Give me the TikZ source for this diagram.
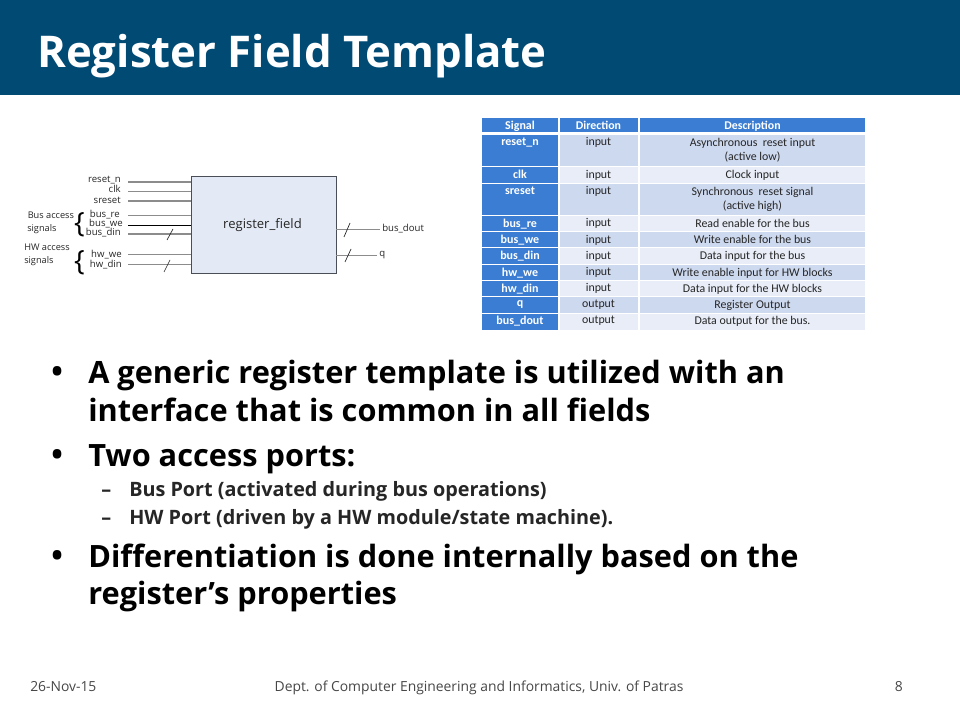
\documentclass[tikz,border=0pt]{standalone}
\usepackage{fontspec}
\setmainfont{Open Sans}
\newfontfamily\tbl{Carlito}
\definecolor{banner}{HTML}{004A74}
\definecolor{hdr}{HTML}{3A7DD3}
\definecolor{rowa}{HTML}{CDD9EF}
\definecolor{rowb}{HTML}{E8EDF7}
\definecolor{wire}{HTML}{8C8C8C}
\definecolor{boxfill}{HTML}{E4EAF5}
\definecolor{boxline}{HTML}{4A4F57}
\definecolor{txt}{HTML}{262626}
\tikzset{
 x=0.75pt,y=-0.75pt,
 cellc/.style={font=\tbl\fontsize{8.9}{10.9}\selectfont,text=txt,align=center,anchor=north,inner sep=0pt},
 cellh/.style={font=\tbl\bfseries\fontsize{9}{10.9}\selectfont,text=white,align=center,anchor=north,inner sep=0pt},
 sig/.style={font=\fontsize{7.2}{8}\selectfont,text=txt,anchor=base east,inner sep=0pt},
 lab/.style={font=\fontsize{6.9}{8}\selectfont,text=txt,anchor=base west,inner sep=0pt},
 wirel/.style={draw=wire,line width=0.95pt},
 slash/.style={draw=txt,line width=0.5pt},
 bul/.style={font=\bfseries\fontsize{23.05}{28}\selectfont,text=black,anchor=base west,inner sep=0pt},
 sub/.style={font=\bfseries\fontsize{14.85}{17}\selectfont,text=txt,anchor=base west,inner sep=0pt},
 foot/.style={font=\fontsize{10.4}{12}\selectfont,text=txt!85,inner sep=0pt},
 brace/.style={font=\fontsize{21}{24}\selectfont,text=black,inner sep=0pt},
}
\newcommand{\trow}[7]{%
 \fill[#1] (482,#2) rectangle (558,#3);
 \fill[#7] (559.5,#2) rectangle (638,#3);
 \fill[#7] (640,#2) rectangle (865,#3);
 \node[cellh] at (520,#2+2.5) {#4};
 \node[cellc] at (598.5,#2+2.5) {#5};
 \node[cellc] at (752.5,#2+2.5) {#6};
}
\begin{document}
\begin{tikzpicture}
\useasboundingbox (0,0) rectangle (960,720);
\fill[white] (0,0) rectangle (960,720);
\fill[banner] (0,0) rectangle (960,95);
\node[anchor=base west,inner sep=0pt,text=white,font=\bfseries\fontsize{32.8}{36}\selectfont] (title) at (37,68) {Register Field Template};

% block
\node[draw=boxline,fill=boxfill,line width=0.7pt,minimum width=108.4pt,inner sep=0pt,anchor=north west,minimum height=72.4pt] (rf) at (191,176.5) {};
\node[font=\fontsize{9.8}{11}\selectfont,text=txt,inner sep=0pt] (rflabel) at (262.5,225) {register\_field};

% input wires
\foreach \n/\y/\t/\xe/\ty in {
 a/182/reset\_n/121/182.5,
 b/191.5/clk/121/192.5,
 c/201/sreset/121/204,
 d/215.5/bus\_re/120/217.5,
 e/225.5/bus\_we/123/227,
 f/234/bus\_din/121/236,
 g/254.5/hw\_we/122/257.5,
 h/264.5/hw\_din/122/267.5}{
 \node[sig] (l\n) at (\xe,\ty) {\t};
 \coordinate (s\n) at (128,\y);
 \coordinate (e\n) at (191,\y);
 \draw[wirel] (s\n) -- (e\n);
}
\draw[draw=black,line width=0.6pt] (se) -- (ee);
\coordinate (p1a) at (167,240); \coordinate (p1b) at (173,229);
\draw[slash] (p1a) -- (p1b);
\coordinate (p2a) at (164,272); \coordinate (p2b) at (170,260);
\draw[slash] (p2a) -- (p2b);

% output wires
\coordinate (o1) at (380,229.5); \coordinate (o2) at (377,255.5);
\draw[wirel] (336,229.5) -- (o1);
\draw[wirel] (336,255.5) -- (o2);
\coordinate (p3a) at (344,237); \coordinate (p3b) at (350,223);
\draw[slash] (p3a) -- (p3b);
\coordinate (p4a) at (345,262); \coordinate (p4b) at (351,249);
\draw[slash] (p4a) -- (p4b);
\node[lab,font=\fontsize{7.2}{8}\selectfont] (ldout) at (382,232) {bus\_dout};
\node[lab,font=\fontsize{7.2}{8}\selectfont] (lq) at (379,257) {q};

% group labels
\node[lab] (g1) at (27.5,219) {Bus access};
\node[lab] (g2) at (27,232) {signals};
\node[lab] (g3) at (24,251) {HW access};
\node[lab] (g4) at (24,264) {signals};
\node[brace] (b1) at (79.5,225) {\{};
\node[brace] (b2) at (79.5,263) {\{};

% table
\trow{hdr}{118.5}{132.5}{Signal}{\textcolor{white}{\bfseries Direction}}{\textcolor{white}{\bfseries Description}}{hdr}
\trow{hdr}{135}{166}{reset\_n}{input}{Asynchronous\ \ reset input\\(active low)}{rowa}
\trow{hdr}{167.5}{183}{clk}{input}{Clock input}{rowb}
\trow{hdr}{184}{215}{sreset}{input}{Synchronous\ \ reset signal\\(active high)}{rowa}
\trow{hdr}{216}{231.5}{bus\_re}{input}{Read enable for the bus}{rowb}
\trow{hdr}{232.5}{247.5}{bus\_we}{input}{Write enable for the bus}{rowa}
\trow{hdr}{248.5}{264}{bus\_din}{input}{Data input for the bus}{rowb}
\trow{hdr}{265}{280}{hw\_we}{input}{Write enable input for HW blocks}{rowa}
\trow{hdr}{281}{296.5}{hw\_din}{input}{Data input for the HW blocks}{rowb}
\trow{hdr}{297.5}{312.5}{q}{output}{Register Output}{rowa}
\trow{hdr}{313.5}{329.5}{bus\_dout}{output}{Data output for the bus.}{rowb}

% bullets
\node[bul] (d1) at (51,382) {•};
\node[bul] (t1) at (88,383) {A generic register template is utilized with an};
\node[bul] (t1b) at (88,421) {interface that is common in all fields};
\node[bul] (d2) at (51,465) {•};
\node[bul] (t2) at (88,466) {Two access ports:};
\node[sub] (d3) at (101,496) {–};
\node[sub] (t3) at (129,496) {Bus Port (activated during bus operations)};
\node[sub] (d4) at (101,524) {–};
\node[sub] (t4) at (129,524) {HW Port (driven by a HW module/state machine).};
\node[bul] (d5) at (51,566) {•};
\node[bul] (t5) at (88,567) {Differentiation is done internally based on the};
\node[bul] (t5b) at (88,604) {register’s properties};

% footer
\node[foot,anchor=base west] (f1) at (30,691) {26-Nov-15};
\node[foot,anchor=base] (f2) at (479,691) {Dept. of Computer Engineering and Informatics, Univ. of Patras};
\node[foot,anchor=base east] (f3) at (903,691) {8};
\end{tikzpicture}
\end{document}
